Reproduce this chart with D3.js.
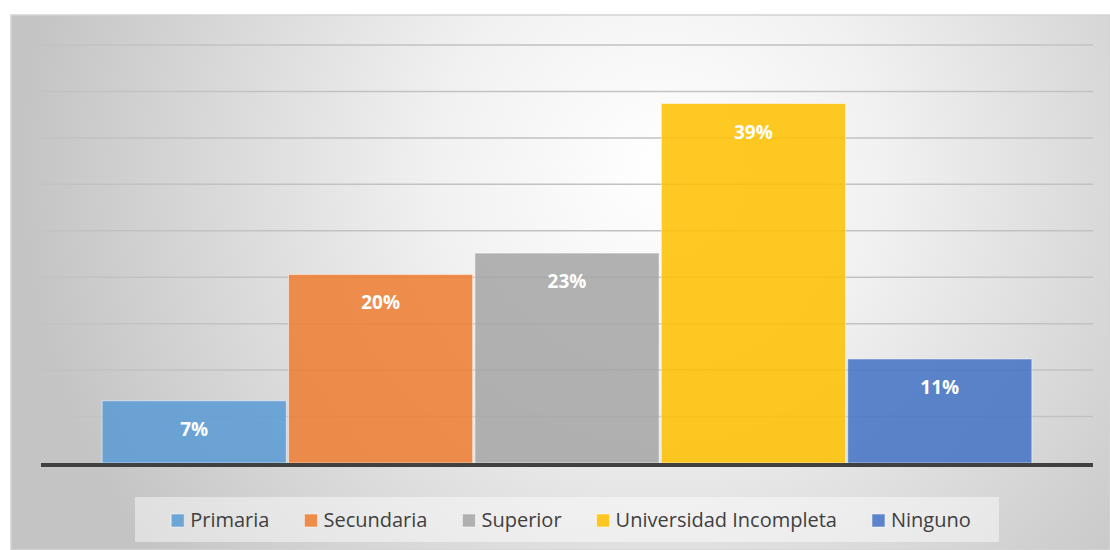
<!DOCTYPE html>
<html>
<head>
<meta charset="utf-8">
<script src="https://cdn.jsdelivr.net/npm/d3@7"></script>
<style>
  body { margin: 0; background: #ffffff; }
  svg { display: block; }
</style>
</head>
<body>
<div id="chart"></div>
<script>
// Nivel educativo - columnas

const categories = ["Primaria", "Secundaria", "Superior", "Universidad Incompleta", "Ninguno"];
const values = [0.067, 0.203, 0.226, 0.387, 0.112];
const labels = ["7%", "20%", "23%", "39%", "11%"];
const colors = ["#5B9BD5", "#ED7D31", "#A5A5A5", "#FFC000", "#4472C4"];
const yTicks = [0, 0.05, 0.10, 0.15, 0.20, 0.25, 0.30, 0.35, 0.40, 0.45];

const W = 1110, H = 550;
const plot = {left: 41, right: 1093, top: 45, bottom: 463};

const svg = d3.select("#chart")
    .append("svg")
    .attr("width", W)
    .attr("height", H);

// background gradient
const defs = svg.append("defs");
const grad = defs.append("radialGradient")
    .attr("id", "bg")
    .attr("gradientUnits", "userSpaceOnUse")
    .attr("cx", 660).attr("cy", 170).attr("r", 640);
grad.append("stop").attr("offset", "0%").attr("stop-color", "#ffffff");
grad.append("stop").attr("offset", "35%").attr("stop-color", "#f1f1f1");
grad.append("stop").attr("offset", "100%").attr("stop-color", "#c4c4c4");

svg.append("rect")
    .attr("x", 11).attr("y", 15)
    .attr("width", W - 11).attr("height", H - 15)
    .attr("fill", "url(#bg)")
    .attr("stroke", "#d4d4d4")
    .attr("stroke-width", 1.5);

const x = d3.scaleBand()
    .domain(categories)
    .range([plot.left, plot.right])
    .paddingInner(0.012)
    .paddingOuter(0.328);

const y = d3.scaleLinear()
    .domain([0, 0.45])
    .range([plot.bottom, plot.top]);

// gridlines
svg.append("g")
    .selectAll("line")
    .data(yTicks.slice(1))
    .join("line")
      .attr("x1", plot.left)
      .attr("x2", plot.right)
      .attr("y1", d => y(d))
      .attr("y2", d => y(d))
      .attr("stroke", "#c2c2c2")
      .attr("stroke-width", 1.5);

// bars
svg.append("g")
    .selectAll("rect")
    .data(categories)
    .join("rect")
      .attr("x", d => x(d))
      .attr("y", (d, i) => y(values[i]))
      .attr("width", x.bandwidth())
      .attr("height", (d, i) => y(0) - y(values[i]))
      .attr("fill", (d, i) => colors[i])
      .attr("fill-opacity", 0.86)
      .attr("stroke", "#ffffff")
      .attr("stroke-opacity", 0.5)
      .attr("stroke-width", 1);

// baseline
svg.append("line")
    .attr("x1", plot.left)
    .attr("x2", plot.right)
    .attr("y1", y(0) + 2)
    .attr("y2", y(0) + 2)
    .attr("stroke", "#404040")
    .attr("stroke-width", 4);

// value labels
svg.append("g")
    .selectAll("text")
    .data(categories)
    .join("text")
      .attr("x", d => x(d) + x.bandwidth() / 2)
      .attr("y", (d, i) => y(values[i]) + 35)
      .attr("text-anchor", "middle")
      .style("font-family", "'Open Sans', sans-serif")
      .style("font-weight", "bold")
      .style("font-size", "19px")
      .style("fill", "#ffffff")
      .text((d, i) => labels[i]);

// legend
svg.append("rect")
    .attr("x", 135).attr("y", 497)
    .attr("width", 864).attr("height", 45)
    .attr("fill", "#ffffff")
    .attr("fill-opacity", 0.45);

const legend = svg.append("g");
const items = legend.selectAll("g")
    .data(categories)
    .join("g");

items.append("rect")
    .attr("y", 514)
    .attr("width", 13)
    .attr("height", 13)
    .attr("fill", (d, i) => colors[i])
    .attr("fill-opacity", 0.86)
    .attr("stroke", "#ffffff")
    .attr("stroke-opacity", 0.5);

items.append("text")
    .attr("x", 19)
    .attr("y", 527)
    .style("font-family", "'Open Sans', sans-serif")
    .style("font-size", "20px")
    .style("fill", "#404040")
    .text(d => d);

let widths = [];
items.each(function() {
    widths.push(19 + d3.select(this).select("text").node().getComputedTextLength());
});
const gap = 35;
const total = d3.sum(widths) + gap * (widths.length - 1);
let cx = 571 - total / 2;
items.each(function(d, i) {
    d3.select(this).attr("transform", `translate(${cx}, 0)`);
    cx += widths[i] + gap;
});
</script>
</body>
</html>
